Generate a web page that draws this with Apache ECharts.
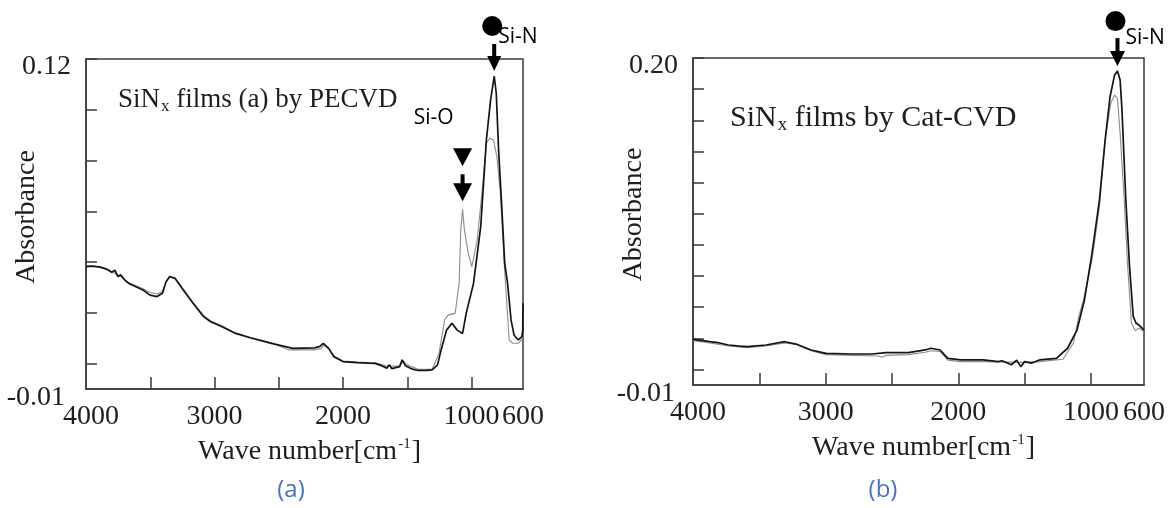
<!DOCTYPE html>
<html><head><meta charset="utf-8">
<script src="https://cdn.jsdelivr.net/npm/echarts@6/dist/echarts.min.js"></script>
<style>html,body{margin:0;padding:0;background:#fff}#c{width:1176px;height:508px}</style>
</head><body><div id="c"></div>
<script>
// ---------- data: [wave number (cm-1), absorbance] ----------
const blackA = [[4000,0.0382],[3950,0.0384],[3891,0.0380],[3837,0.0372],[3800,0.0360],[3775,0.0368],[3752,0.0343],[3730,0.0350],[3700,0.0330],[3668,0.0316],[3620,0.0305],[3557,0.0290],[3502,0.0270],[3447,0.0264],[3405,0.0277],[3377,0.0323],[3349,0.0343],[3307,0.0336],[3253,0.0297],[3167,0.0238],[3085,0.0185],[3030,0.0165],[2946,0.0146],[2835,0.0119],[2724,0.0102],[2557,0.0080],[2390,0.0060],[2223,0.0062],[2180,0.0068],[2154,0.0080],[2112,0.0060],[2071,0.0027],[2001,0.0008],[1891,0.0004],[1800,0.0002],[1751,0.0001],[1700,-0.0008],[1660,-0.0018],[1640,-0.0005],[1620,-0.0020],[1560,-0.0012],[1540,0.0015],[1529,0.0021],[1515,-0.0008],[1502,-0.0012],[1460,-0.0022],[1417,-0.0027],[1350,-0.0027],[1307,-0.0025],[1265,-0.0005],[1237,0.0054],[1195,0.0132],[1153,0.0159],[1112,0.0132],[1070,0.0119],[1042,0.0198],[985,0.0316],[929,0.0540],[885,0.0881],[852,0.1039],[824,0.1133],[808,0.1065],[790,0.0842],[764,0.0605],[742,0.0395],[720,0.0316],[693,0.0172],[670,0.0113],[636,0.0093],[609,0.0106],[602,0.0130],[600,0.0238]];
const grayA = [[4000,0.0385],[3891,0.0382],[3800,0.0362],[3752,0.0350],[3668,0.0320],[3557,0.0295],[3502,0.0280],[3447,0.0274],[3405,0.0285],[3377,0.0320],[3349,0.0340],[3307,0.0335],[3253,0.0300],[3167,0.0240],[3085,0.0190],[3030,0.0168],[2946,0.0150],[2835,0.0120],[2724,0.0104],[2557,0.0082],[2420,0.0054],[2223,0.0054],[2170,0.0060],[2154,0.0072],[2112,0.0058],[2071,0.0030],[2001,0.0010],[1891,0.0006],[1751,0.0003],[1660,-0.0010],[1560,-0.0010],[1529,0.0010],[1502,-0.0005],[1417,-0.0022],[1307,-0.0022],[1253,0.0041],[1210,0.0172],[1183,0.0191],[1128,0.0198],[1097,0.0316],[1084,0.0527],[1070,0.0608],[1056,0.0527],[1026,0.0435],[998,0.0382],[956,0.0487],[915,0.0697],[885,0.0868],[858,0.0888],[830,0.0881],[803,0.0815],[776,0.0671],[748,0.0408],[720,0.0190],[707,0.0093],[680,0.0080],[636,0.0080],[600,0.0100]];
const blackB = [[4000,0.0193],[3873,0.0178],[3800,0.0170],[3732,0.0157],[3650,0.0150],[3591,0.0146],[3449,0.0157],[3308,0.0178],[3223,0.0163],[3110,0.0125],[2997,0.0103],[2801,0.0099],[2650,0.0099],[2545,0.0108],[2376,0.0108],[2249,0.0125],[2207,0.0136],[2137,0.0125],[2079,0.0071],[1981,0.0061],[1811,0.0061],[1700,0.0050],[1670,0.0056],[1600,0.0030],[1560,0.0060],[1529,0.0018],[1500,0.0050],[1450,0.0040],[1388,0.0061],[1260,0.0071],[1176,0.0136],[1105,0.0253],[1049,0.0446],[992,0.0745],[936,0.1088],[893,0.1473],[856,0.1751],[822,0.1890],[800,0.1916],[780,0.1858],[766,0.1666],[737,0.1088],[709,0.0660],[681,0.0339],[659,0.0296],[638,0.0285],[600,0.0253]];
const grayB = [[4000,0.0185],[3873,0.0170],[3732,0.0150],[3591,0.0140],[3449,0.0150],[3308,0.0170],[3223,0.0160],[3110,0.0120],[2997,0.0095],[2801,0.0090],[2600,0.0086],[2575,0.0078],[2545,0.0090],[2376,0.0095],[2249,0.0110],[2207,0.0120],[2137,0.0115],[2079,0.0060],[1981,0.0050],[1811,0.0050],[1529,0.0045],[1388,0.0050],[1211,0.0065],[1133,0.0168],[1092,0.0339],[1056,0.0446],[992,0.0703],[936,0.1045],[893,0.1473],[851,0.1708],[822,0.1762],[800,0.1740],[780,0.1516],[752,0.1131],[723,0.0660],[695,0.0300],[667,0.0250],[638,0.0264],[600,0.0243]];

const xLabelValues = [4000, 3000, 2000, 1000, 600];
const xTickValues = [3500, 3000, 2500, 2000, 1500, 1000];
const yLabelsA = [-0.01, 0.12];
const yTicksA = [0, 0.02, 0.04, 0.06, 0.08, 0.10, 0.12];
const yLabelsB = [-0.01, 0.20];
const yTicksB = [0, 0.02, 0.04, 0.06, 0.08, 0.10, 0.12, 0.14, 0.16, 0.18, 0.20];
const peakSiN_A = [824, 0.1133];
const peakSiO_A = [1070, 0.0608];
const peakSiN_B = [800, 0.1916];

// ---------- chart ----------
const SERIF = '"Liberation Serif","Times New Roman",serif';
const SANS = '"Open Sans","Liberation Sans",sans-serif';
const AX = '#3a3a3a', TXT = '#1e1e1e';

function xAxis(gi) {
  return {
    type: 'value', gridIndex: gi, inverse: true, min: 600, max: 4000,
    axisLine: { show: true, onZero: false, lineStyle: { color: AX, width: 1.5 } },
    axisTick: { show: true, inside: true, length: 12, customValues: xTickValues, lineStyle: { color: AX, width: 1.5 } },
    axisLabel: {
      customValues: xLabelValues, margin: 14, color: TXT, fontFamily: SERIF, fontSize: 28,
      hideOverlap: false, showMinLabel: true, showMaxLabel: true,
      formatter: v => v === 4000 ? '{s|4000}' : String(v),
      rich: { s: { padding: [0, 0, 0, 10], fontFamily: SERIF, fontSize: 28, color: TXT } }
    },
    splitLine: { show: false },
    name: 'Wave number[cm{sup|-1}]', nameLocation: 'middle', nameGap: 48, nameMoveOverlap: false,
    nameTextStyle: {
      fontFamily: SERIF, fontSize: 28, color: TXT, padding: [0, 0, 0, 10],
      rich: { sup: { fontFamily: SERIF, fontSize: 15, color: TXT, verticalAlign: 'top', padding: [0, 1, 14, 1] } }
    }
  };
}
function yAxis(gi, max, ticks, labels, shift) {
  return {
    type: 'value', gridIndex: gi, min: -0.01, max: max,
    axisLine: { show: true, onZero: false, lineStyle: { color: AX, width: 1.5 } },
    axisTick: { show: true, inside: true, length: 11, customValues: ticks, lineStyle: { color: AX, width: 1.5 } },
    axisLabel: {
      customValues: labels, margin: 15, color: TXT, fontFamily: SERIF, fontSize: 28,
      hideOverlap: false, showMinLabel: true, showMaxLabel: true,
      formatter: v => v < 0 ? '{n|-0.01}' : '{t|' + v.toFixed(2) + '}',
      rich: {
        n: { padding: [18, shift, 0, 0], fontFamily: SERIF, fontSize: 28, color: TXT },
        t: { padding: [16, 0, 0, 0], fontFamily: SERIF, fontSize: 28, color: TXT }
      }
    },
    splitLine: { show: false },
    name: 'Absorbance', nameLocation: 'middle', nameGap: 45, nameRotate: 90, nameMoveOverlap: false,
    nameTextStyle: { fontFamily: SERIF, fontSize: 28, color: TXT, padding: [0, 0, 0, 14] }
  };
}
function line(data, gi, color, width) {
  return {
    type: 'line', xAxisIndex: gi, yAxisIndex: gi, data: data, showSymbol: false,
    symbol: 'none', lineStyle: { color: color, width: width }, silent: true
  };
}

const chart = echarts.init(document.getElementById('c'), null, { renderer: 'canvas' });
const gridBase = { show: true, borderColor: AX, borderWidth: 1.5, backgroundColor: 'transparent', containLabel: false, outerBoundsMode: 'none' };
chart.setOption({
  backgroundColor: '#fff',
  animation: false,
  grid: [
    Object.assign({ left: 86, top: 59, width: 437, height: 330 }, gridBase),
    Object.assign({ left: 693, top: 58, width: 451, height: 327 }, gridBase)
  ],
  xAxis: [xAxis(0), xAxis(1)],
  yAxis: [yAxis(0, 0.12, yTicksA, yLabelsA, 6), yAxis(1, 0.20, yTicksB, yLabelsB, 3)],
  series: [
    line(grayA, 0, '#8c8c8c', 1.1),
    line(blackA, 0, '#151515', 1.7),
    line(grayB, 1, '#8c8c8c', 1.1),
    line(blackB, 1, '#151515', 1.7)
  ]
});

// ---------- annotations (positioned from data coordinates) ----------
function arrowDown(cx, tipY, headH, headW, stemLen, stemW) {
  return [
    { type: 'polygon', shape: { points: [[cx - headW / 2, tipY - headH], [cx + headW / 2, tipY - headH], [cx, tipY]] }, style: { fill: '#000' } },
    { type: 'rect', shape: { x: cx - stemW / 2, y: tipY - stemLen, width: stemW, height: stemLen - headH + 1 }, style: { fill: '#000' } }
  ];
}
const g = [];
const pA = chart.convertToPixel({ gridIndex: 0 }, peakSiN_A);
{
  const cx = pA[0], tip = pA[1] - 5;
  g.push(...arrowDown(cx, tip, 15, 14, 27, 4));
  g.push({ type: 'circle', shape: { cx: cx - 2, cy: tip - 45, r: 10 }, style: { fill: '#000' } });
  g.push({ type: 'text', style: { text: 'Si-N', x: cx + 4, y: tip - 34, font: '21px ' + SANS, fill: '#000', verticalAlign: 'middle' } });
}
const pO = chart.convertToPixel({ gridIndex: 0 }, peakSiO_A);
{
  const cx = pO[0], tip = pO[1] - 8;
  g.push(...arrowDown(cx, tip, 18, 19, 27, 4));
  g.push({ type: 'polygon', shape: { points: [[cx - 9.5, tip - 53], [cx + 9.5, tip - 53], [cx, tip - 35]] }, style: { fill: '#000' } });
  g.push({ type: 'text', style: { text: 'Si-O', x: cx - 29, y: tip - 83, font: '21px ' + SANS, fill: '#000', align: 'center', verticalAlign: 'middle' } });
}
const pB = chart.convertToPixel({ gridIndex: 1 }, peakSiN_B);
{
  const cx = pB[0], tip = pB[1] - 5;
  g.push(...arrowDown(cx, tip, 15, 15, 28, 4));
  g.push({ type: 'circle', shape: { cx: cx - 2, cy: tip - 45, r: 10 }, style: { fill: '#000' } });
  g.push({ type: 'text', style: { text: 'Si-N', x: cx + 8, y: tip - 28, font: '21px ' + SANS, fill: '#000', verticalAlign: 'middle' } });
}
// titles inside plots
g.push({ type: 'text', style: {
  text: 'SiN{sub|x} films (a) by PECVD', x: 118, y: 100, verticalAlign: 'middle',
  font: '27px ' + SERIF, fill: TXT,
  rich: { sub: { fontFamily: SERIF, fontSize: 17, fill: TXT, verticalAlign: 'bottom', padding: [14, 0, 0, 1] } }
} });
g.push({ type: 'text', style: {
  text: 'SiN{sub|x} films by Cat-CVD', x: 730, y: 118, verticalAlign: 'middle',
  font: '30px ' + SERIF, fill: TXT,
  rich: { sub: { fontFamily: SERIF, fontSize: 19, fill: TXT, verticalAlign: 'bottom', padding: [15, 0, 0, 1] } }
} });
// panel captions
g.push({ type: 'text', style: { text: '(a)', x: 291, y: 490, align: 'center', verticalAlign: 'middle', font: '24px ' + SANS, fill: '#4472C4' } });
g.push({ type: 'text', style: { text: '(b)', x: 883, y: 490, align: 'center', verticalAlign: 'middle', font: '24px ' + SANS, fill: '#4472C4' } });

chart.setOption({ graphic: { elements: g } });
</script>
</body></html>
